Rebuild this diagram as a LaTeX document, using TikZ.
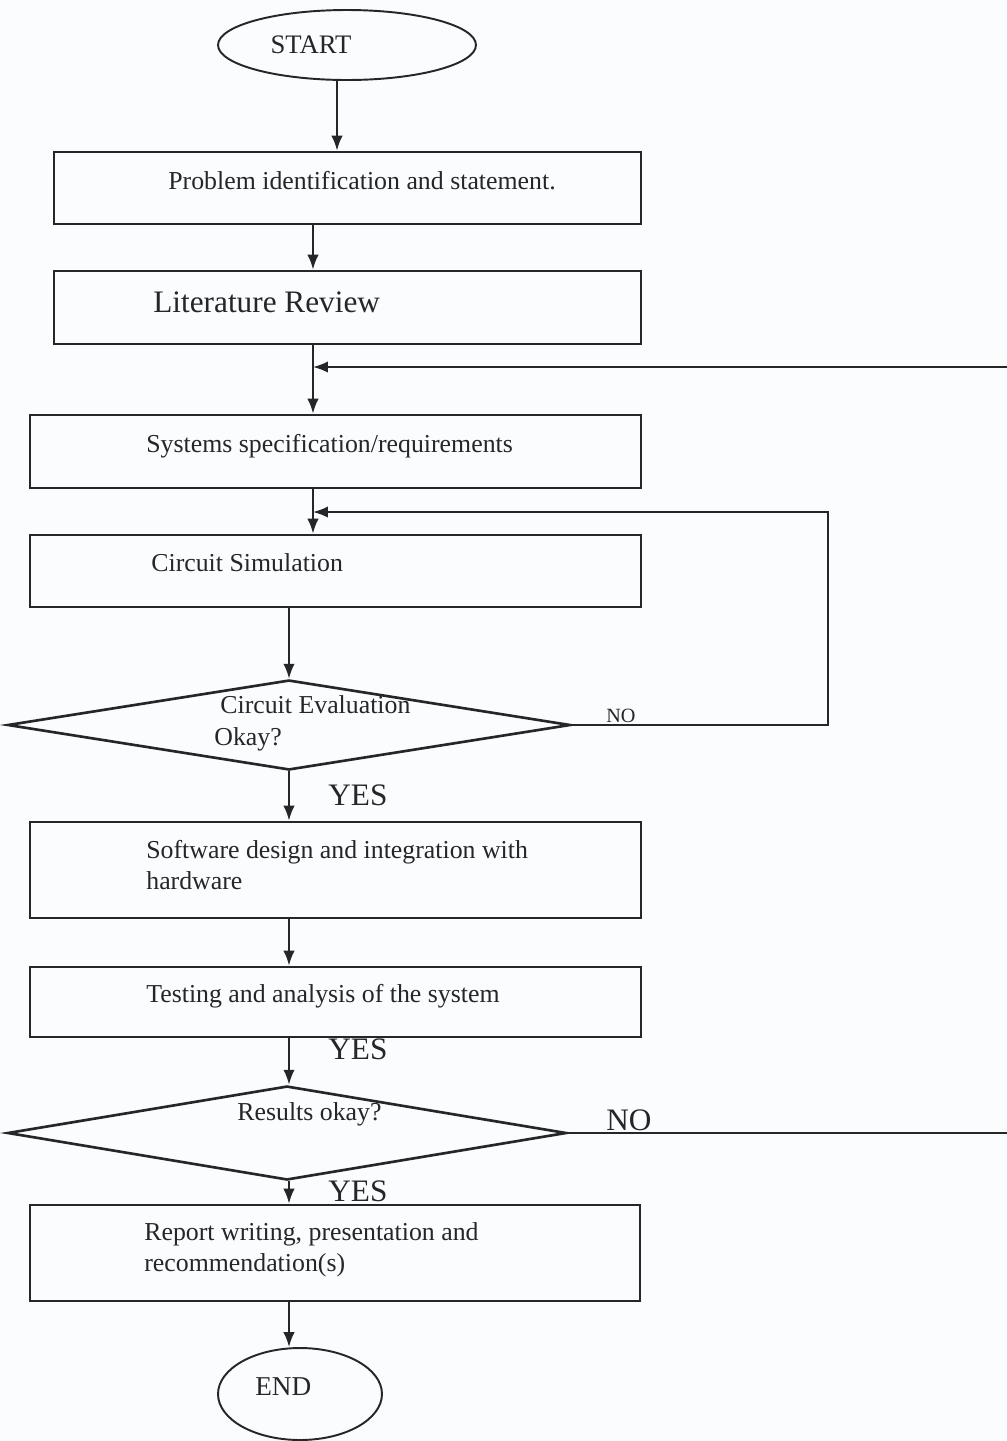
\documentclass[tikz,border=0pt]{standalone}
\usepackage{fontspec}
\setmainfont{Liberation Serif}
\usetikzlibrary{shapes.geometric,fit,arrows.meta}
\definecolor{ink}{HTML}{262626}
\definecolor{paper}{HTML}{FAFCFD}
\tikzset{
  stepbox/.style={draw=ink, line width=1.6pt, inner sep=0pt},
  terminal/.style={draw=ink, line width=1.1pt, ellipse, inner sep=0pt},
  decision/.style={draw=ink, line width=1.5pt, diamond, inner sep=0pt},
  link/.style={draw=ink, line width=1.1pt},
  arr/.style={link, -{Latex[length=8.5pt,width=6.5pt]}},
  txt/.style={text=ink, anchor=mid west, inner sep=0pt, yshift=-0.1cm,
    font=\fontsize{14.7}{17}\selectfont},
  bigtxt/.style={txt, font=\fontsize{17.8}{20}\selectfont},
  smalltxt/.style={txt, font=\fontsize{11.5}{14}\selectfont},
}
\begin{document}
\begin{tikzpicture}[x=0.02cm, y=-0.02cm]
  \fill[paper] (0,0) rectangle (1007,1441);
  \useasboundingbox (0,0) rectangle (1007,1441);

  % connector columns
  \coordinate (c1) at (337,0);
  \coordinate (c2) at (313,0);
  \coordinate (c3) at (289,0);

  % terminals
  \node[terminal, minimum width=5.16cm, minimum height=1.4cm] (start) at (347,45) {};
  \node[txt, anchor=mid, font=\fontsize{15.2}{17}\selectfont] at (311,44) {START};
  \node[terminal, minimum width=3.28cm, minimum height=1.84cm] (end) at (300,1394) {};
  \node[txt, font=\fontsize{15.5}{17}\selectfont] at (255,1386) {END};

  % process steps
  \node[stepbox, fit={(54,152) (641,224)}] (b1) {};
  \node[txt] at (168,180) {Problem identification and statement.};

  \node[stepbox, fit={(54,271) (641,344)}] (b2) {};
  \node[bigtxt] at (153,303) {Literature Review};

  \node[stepbox, fit={(30,415) (641,488)}] (b3) {};
  \node[txt] at (146,443) {Systems specification/requirements};

  \node[stepbox, fit={(30,535) (641,607)}] (b4) {};
  \node[txt] at (151,562) {Circuit Simulation};

  \node[decision, minimum width=11.26cm, minimum height=1.8cm] (d1) at (289,725) {};
  \node[txt] at (220,704) {Circuit Evaluation};
  \node[txt] at (214,736) {Okay?};
  \node[smalltxt] at (606,713) {NO};
  \node[bigtxt] at (328,796) {YES};

  \node[stepbox, fit={(30,822) (641,918)}] (b5) {};
  \node[txt] at (146,849) {Software design and integration with};
  \node[txt] at (146,880) {hardware};

  \node[stepbox, fit={(30,967) (641,1037)}] (b6) {};
  \node[txt] at (146,993) {Testing and analysis of the system};
  \node[bigtxt] at (328,1050) {YES};

  \node[decision, minimum width=11.18cm, minimum height=1.88cm] (d2) at (287,1133) {};
  \node[txt] at (237,1111) {Results okay?};
  \node[bigtxt] at (606,1121) {NO};
  \node[bigtxt] at (328,1192) {YES};

  \node[stepbox, fit={(30,1205) (640,1301)}] (b7) {};
  \node[txt] at (144,1231) {Report writing, presentation and};
  \node[txt] at (144,1262) {recommendation(s)};

  % junctions and loop-back corners
  \coordinate (j1) at (313,367);
  \coordinate (r1) at (1007,367);
  \coordinate (j2) at (313,512);
  \coordinate (loop) at (828,512);
  \coordinate (r2) at (1007,1133);

  % main flow
  \draw[arr] (start.south -| c1) -- (b1.north -| c1);
  \draw[arr] (b1.south -| c2) -- (b2.north -| c2);
  \draw[arr] (b2.south -| c2) -- (b3.north -| c2);
  \draw[arr] (b3.south -| c2) -- (b4.north -| c2);
  \draw[arr] (b4.south -| c3) -- (d1.north);
  \draw[arr] (d1.south) -- (b5.north -| c3);
  \draw[arr] (b5.south -| c3) -- (b6.north -| c3);
  \draw[arr] (b6.south -| c3) -- (d2.north -| c3);
  \draw[arr] (d2.south -| c3) -- (b7.north -| c3);
  \draw[arr] (b7.south -| c3) -- (end.north -| c3);

  % loop-backs
  \draw[arr] (r1) -- (j1);
  \draw[arr] (d1.east) -| (loop) -- (j2);
  \draw[link] (d2.east) -- (r2);
\end{tikzpicture}
\end{document}
